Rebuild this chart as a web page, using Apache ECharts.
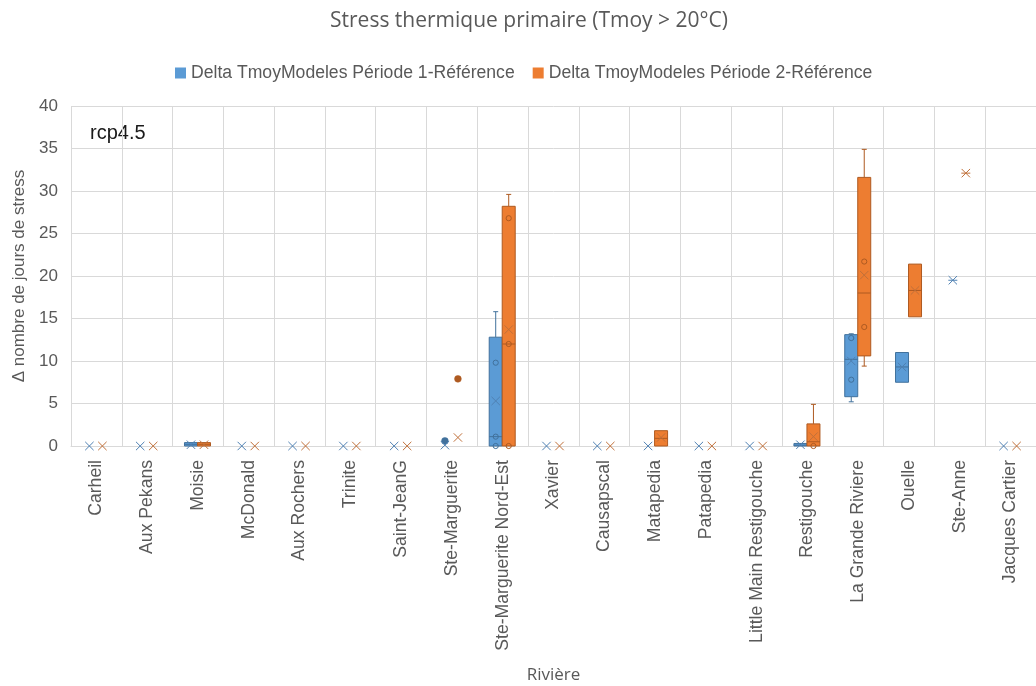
<!DOCTYPE html>
<html><head><meta charset="utf-8">
<script src="https://cdn.jsdelivr.net/npm/echarts@6/dist/echarts.min.js"></script>
<style>html,body{margin:0;padding:0;background:#fff}#c{width:1036px;height:686px}</style>
</head><body><div id="c"></div>
<script>
const categories = ['Carheil','Aux Pekans','Moisie','McDonald','Aux Rochers','Trinite','Saint-JeanG','Ste-Marguerite','Ste-Marguerite Nord-Est','Xavier','Causapscal','Matapedia','Patapedia','Little Main Restigouche','Restigouche','La Grande Riviere','Ouelle','Ste-Anne','Jacques Cartier'];
const seriesNames = ['Delta TmoyModeles Période 1-Référence','Delta TmoyModeles Période 2-Référence'];

// Période 1
const p1Min    = [0,0,0,  0,0,0,0,0,  0,   0,0,0,  0,0,0,   5.2, 7.5, 19.5,0];
const p1Q1     = [0,0,0,  0,0,0,0,0,  0,   0,0,0,  0,0,0,   5.8, 7.5, 19.5,0];
const p1Median = [0,0,0.2,0,0,0,0,0,  1.1, 0,0,0,  0,0,0.1, 10.2,9.3, 19.5,0];
const p1Q3     = [0,0,0.4,0,0,0,0,0,  12.8,0,0,0,  0,0,0.3, 13.1,11.0,19.5,0];
const p1Max    = [0,0,0.4,0,0,0,0,0,  15.8,0,0,0,  0,0,0.3, 13.2,11.0,19.5,0];
const p1Mean   = [0,0,0.15,0,0,0,0,0.1,5.3,0,0,0,  0,0,0.15,10.0,9.3, 19.5,0];
const p1Points = [[],[],[],[],[],[],[],[],[0,1.1,9.8],[],[],[],[],[],[],[7.8,12.7],[],[],[]];
const p1Outliers = [[],[],[],[],[],[],[],[0.6],[],[],[],[],[],[],[],[],[],[],[]];

// Période 2
const p2Min    = [0,0,0,  0,0,0,0,0,  0,   0,0,0,  0,0,0,   9.4, 15.2,32.1,0];
const p2Q1     = [0,0,0,  0,0,0,0,0,  0,   0,0,0,  0,0,0,   10.6,15.2,32.1,0];
const p2Median = [0,0,0.2,0,0,0,0,0,  12.0,0,0,0.9,0,0,0.5, 18.0,18.3,32.1,0];
const p2Q3     = [0,0,0.4,0,0,0,0,0,  28.2,0,0,1.8,0,0,2.6, 31.6,21.4,32.1,0];
const p2Max    = [0,0,0.4,0,0,0,0,0,  29.6,0,0,1.8,0,0,4.9, 34.9,21.4,32.1,0];
const p2Mean   = [0,0,0.15,0,0,0,0,1.0,13.7,0,0,1.0,0,0,1.1, 20.1,18.3,32.1,0];
const p2Points = [[],[],[],[],[],[],[],[],[0,12.0,26.8],[],[],[],[],[],[0],[14.0,21.7],[],[],[]];
const p2Outliers = [[],[],[],[],[],[],[],[7.9],[],[],[],[],[],[],[],[],[],[],[]];

const BOX_W = 13;

function build(minA,q1A,medA,q3A,maxA,meanA){
  return categories.map((c,i)=>[i,minA[i],q1A[i],medA[i],q3A[i],maxA[i],meanA[i]]);
}

function makeRender(points, outliers, offset, fill, stroke, markColor){
  return function(params, api){
    const i = api.value(0);
    const mn = api.value(1), q1 = api.value(2), md = api.value(3), q3 = api.value(4), mx = api.value(5), mean = api.value(6);
    const cx = api.coord([i,0])[0] + offset;
    const Y = v => api.coord([i,v])[1];
    const hw = BOX_W/2;
    const ch = [];
    const ls = {stroke: stroke, lineWidth: 1};
    if (mx > q3) {
      ch.push({type:'line', shape:{x1:cx,y1:Y(q3),x2:cx,y2:Y(mx)}, style:ls});
      ch.push({type:'line', shape:{x1:cx-2.5,y1:Y(mx),x2:cx+2.5,y2:Y(mx)}, style:ls});
    }
    if (mn < q1) {
      ch.push({type:'line', shape:{x1:cx,y1:Y(q1),x2:cx,y2:Y(mn)}, style:ls});
      ch.push({type:'line', shape:{x1:cx-2.5,y1:Y(mn),x2:cx+2.5,y2:Y(mn)}, style:ls});
    }
    if (q3 > q1) {
      ch.push({type:'rect', shape:{x:cx-hw,y:Y(q3),width:BOX_W,height:Y(q1)-Y(q3)}, style:{fill:fill, stroke:stroke, lineWidth:1}});
      ch.push({type:'line', shape:{x1:cx-hw,y1:Y(md),x2:cx+hw,y2:Y(md)}, style:ls});
    } else if (q3 > 0) {
      ch.push({type:'line', shape:{x1:cx-4.5,y1:Y(md),x2:cx+4.5,y2:Y(md)}, style:{stroke:markColor,lineWidth:1}});
    }
    (points[i]||[]).forEach(v=>{
      ch.push({type:'circle', shape:{cx:cx,cy:Y(v),r:2.6}, style:{fill:'none', stroke:stroke, lineWidth:1}});
    });
    (outliers[i]||[]).forEach(v=>{
      ch.push({type:'circle', shape:{cx:cx,cy:Y(v),r:3.4}, style:{fill:stroke, stroke:stroke, lineWidth:0.5}});
    });
    const my = Y(mean), s = 4.2;
    ch.push({type:'polyline', shape:{points:[[cx-s,my-s],[cx+s,my+s]]}, style:{stroke:markColor, lineWidth:1, fill:null}});
    ch.push({type:'polyline', shape:{points:[[cx-s,my+s],[cx+s,my-s]]}, style:{stroke:markColor, lineWidth:1, fill:null}});
    return {type:'group', children: ch};
  };
}

const chart = echarts.init(document.getElementById('c'), null, {renderer:'canvas'});
const fontAxis = 'Liberation Sans, Arial, sans-serif';
chart.setOption({
  animation: false,
  backgroundColor: '#fff',
  title: {
    text: 'Stress thermique primaire (Tmoy > 20°C)',
    left: 325, top: 6,
    textStyle: {fontFamily: 'Open Sans, sans-serif', fontSize: 21, fontWeight: 'normal', color: '#595959'}
  },
  legend: {
    data: [{name: seriesNames[0], icon: 'rect'}, {name: seriesNames[1], icon: 'rect'}],
    left: 170, top: 59, itemWidth: 11, itemHeight: 11, itemGap: 18,
    textStyle: {fontFamily: fontAxis, fontSize: 17.6, color: '#595959'}
  },
  graphic: [{
    type: 'group', left: 73, top: 108,
    children: [
      {type:'rect', shape:{x:0,y:0,width:90,height:42}, style:{fill:'#fff'}},
      {type:'text', x:17, y:25, style:{text:'rcp4.5', fontFamily: fontAxis, fontSize: 20, fill:'#1a1a1a', textVerticalAlign:'middle'}}
    ],
    z: 100
  }],
  grid: {left: 71, right: -4, top: 106, bottom: 240},
  xAxis: {
    type: 'category', data: categories,
    name: 'Rivière', nameLocation: 'middle', nameGap: 221,
    nameTextStyle: {fontFamily: 'Open Sans, sans-serif', fontSize: 17, color: '#595959'},
    axisLine: {lineStyle: {color: '#d9d9d9'}},
    axisTick: {show: false},
    splitLine: {show: true, lineStyle: {color: '#d9d9d9'}},
    axisLabel: {rotate: 90, interval: 0, margin: 14, fontFamily: fontAxis, fontSize: 17.6, color: '#595959'}
  },
  yAxis: {
    type: 'value', min: 0, max: 40, interval: 5,
    name: 'Δ nombre de jours de stress', nameLocation: 'middle', nameGap: 42,
    nameTextStyle: {fontFamily: fontAxis, fontSize: 17, color: '#595959'},
    axisLine: {show: false}, axisTick: {show: false},
    splitLine: {lineStyle: {color: '#d9d9d9'}},
    axisLabel: {margin: 13, fontFamily: fontAxis, fontSize: 17, color: '#595959'}
  },
  series: [
    {
      name: seriesNames[0], type: 'custom',
      itemStyle: {color: '#5B9BD5', borderColor: '#41719C'},
      renderItem: makeRender(p1Points, p1Outliers, -7, '#5B9BD5', '#41719C', '#4F81B3'),
      encode: {x: 0, y: [1,2,3,4,5,6]},
      data: build(p1Min,p1Q1,p1Median,p1Q3,p1Max,p1Mean)
    },
    {
      name: seriesNames[1], type: 'custom',
      itemStyle: {color: '#ED7D31', borderColor: '#AE5A21'},
      renderItem: makeRender(p2Points, p2Outliers, 6, '#ED7D31', '#AE5A21', '#C0703A'),
      encode: {x: 0, y: [1,2,3,4,5,6]},
      data: build(p2Min,p2Q1,p2Median,p2Q3,p2Max,p2Mean)
    }
  ]
});
</script></body></html>
